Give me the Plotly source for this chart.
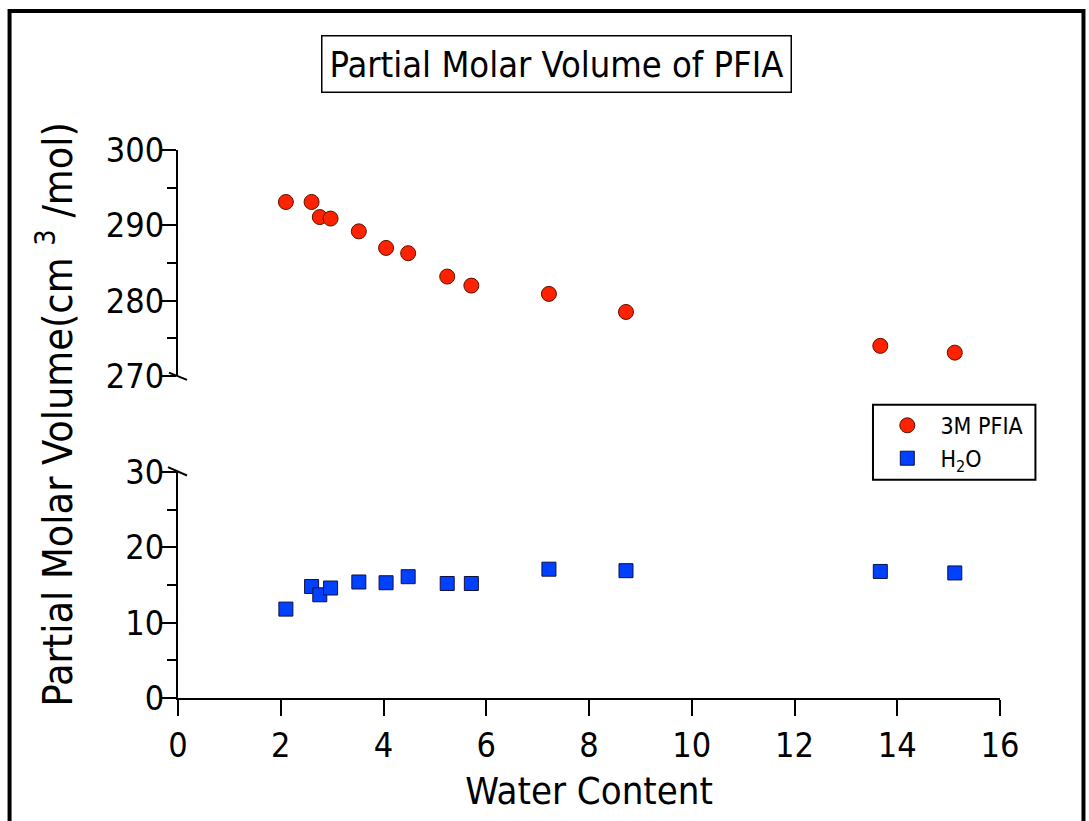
import plotly.graph_objects as go

# ---- data ----
water_content = [2.10, 2.60, 2.76, 2.97, 3.52, 4.05, 4.48, 5.24, 5.71, 7.22, 8.72, 13.67, 15.12]
pfia_volume = [293.1, 293.1, 291.1, 290.9, 289.2, 287.0, 286.3, 283.2, 282.0, 280.9, 278.5, 274.0, 273.1]
h2o_volume = [11.8, 14.8, 13.7, 14.6, 15.4, 15.3, 16.1, 15.2, 15.2, 17.1, 16.9, 16.8, 16.6]

x_ticks = [0, 2, 4, 6, 8, 10, 12, 14, 16]
FONT = "Liberation Sans Narrow, DejaVu Sans Condensed, Arial Narrow, sans-serif"

# plot-area geometry in pixels (for converting decorations to paper coords)
L, R, T, B = 178.3, 999.6, 150.0, 698.3
W, H = R - L, B - T


def px(x):
    return (x - L) / W


def py(y):
    return (B - y) / H


NB = "\u00a0"

fig = go.Figure()
fig.add_trace(go.Scatter(
    x=water_content, y=pfia_volume, mode="markers", name=NB * 2 + "3M PFIA", yaxis="y2",
    marker=dict(symbol="circle", size=15, color="#FF2200",
                line=dict(color="#5a1000", width=1)),
))
fig.add_trace(go.Scatter(
    x=water_content, y=h2o_volume, mode="markers", name=NB * 2 + "H<sub>2</sub>O", yaxis="y",
    marker=dict(symbol="square", size=14, color="#0040FF",
                line=dict(color="#101040", width=1)),
))

axis_common = dict(
    showline=True, linecolor="black", linewidth=2, showgrid=False, zeroline=False,
    ticks="outside", ticklen=16, tickwidth=2, tickcolor="black",
    tickfont=dict(family=FONT, size=34, color="black"),
)

fig.update_layout(
    width=1089, height=821,
    margin=dict(l=L, r=1089 - R, t=T, b=821 - B),
    paper_bgcolor="white", plot_bgcolor="white",
    font=dict(family=FONT, color="black"),
    xaxis=dict(range=[0, 16], tickvals=x_ticks, anchor="y",
               title=dict(text="Water Content", font=dict(family=FONT, size=38), standoff=14),
               **axis_common),
    yaxis=dict(domain=[0, 0.4124], range=[0, 30], dtick=10, anchor="x",
               ticklabelstandoff=-11,
               minor=dict(dtick=5, ticklen=9, tickwidth=2, tickcolor="black", ticks="outside"),
               **axis_common),
    yaxis2=dict(domain=[0.5876, 1], range=[270, 300], dtick=10, anchor="x",
                ticklabelstandoff=-11,
                minor=dict(dtick=5, ticklen=9, tickwidth=2, tickcolor="black", ticks="outside"),
                **axis_common),
    legend=dict(x=px(887), y=py(404), xanchor="left", yanchor="top",
                bgcolor="rgba(0,0,0,0)", borderwidth=0,
                font=dict(family=FONT, size=23, color="black"),
                itemwidth=30, tracegroupgap=0),
    showlegend=True,
)

# legend frame
fig.add_shape(type="rect", xref="paper", yref="paper",
              x0=px(872.7), y0=py(405), x1=px(1035), y1=py(480),
              line=dict(color="black", width=2), fillcolor="rgba(0,0,0,0)", layer="below")

# title box
fig.add_annotation(
    text="Partial Molar Volume of PFIA", xref="paper", yref="paper",
    x=px(556.5), y=py(64), xanchor="center", yanchor="middle", showarrow=False,
    font=dict(family=FONT, size=36, color="black"),
    bordercolor="black", borderwidth=1.5, borderpad=7, bgcolor="white",
)

# y-axis title
fig.add_annotation(
    text="Partial Molar Volume(cm" + NB + "<sup>3</sup>" + NB + "/mol)", xref="paper", yref="paper",
    x=px(55), y=py(415), xanchor="center", yanchor="middle", showarrow=False,
    textangle=-90, font=dict(family=FONT, size=41, color="black"),
)

# axis break marks
for (x0, y0, x1, y1) in [(169.3, 372.7, 187.3, 380.0), (168.3, 467.3, 187.3, 475.7)]:
    fig.add_shape(type="line", xref="paper", yref="paper",
                  x0=px(x0), y0=py(y0), x1=px(x1), y1=py(y1),
                  line=dict(color="black", width=2))

# outer frame
fig.add_shape(type="rect", xref="paper", yref="paper",
              x0=px(10), y0=py(11), x1=px(1083), y1=py(840),
              line=dict(color="black", width=4), fillcolor="rgba(0,0,0,0)")

fig.write_html("out.html")
